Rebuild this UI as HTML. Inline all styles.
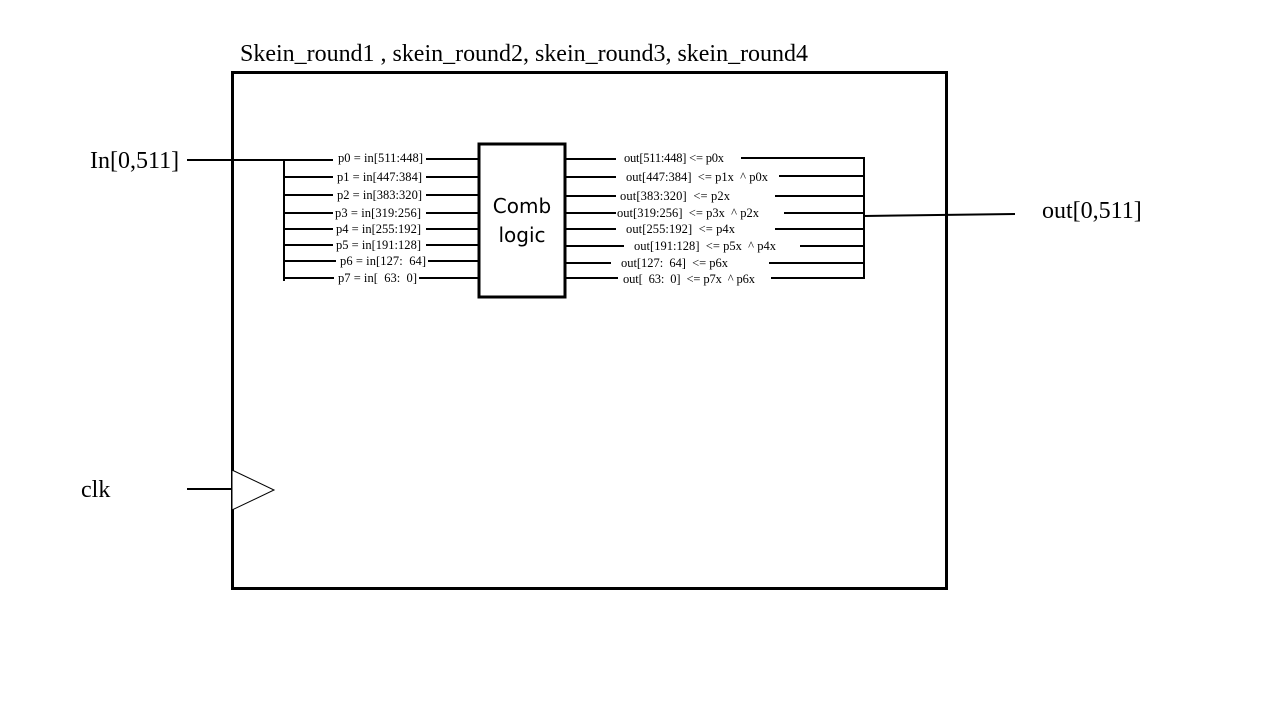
<!DOCTYPE html>
<html><head><style>body{margin:0;background:#fff}svg{display:block}</style></head><body>
<svg width="1280" height="720" xmlns="http://www.w3.org/2000/svg" font-family="Liberation Serif, serif">
<rect x="232.5" y="72.5" width="714" height="516" fill="none" stroke="#000" stroke-width="3"/>
<text x="240" y="61" font-size="24" textLength="568">Skein_round1 , skein_round2, skein_round3, skein_round4</text>
<text x="90" y="168" font-size="24">In[0,511]</text>
<text x="1042" y="218" font-size="24">out[0,511]</text>
<text x="81" y="497" font-size="24">clk</text>
<line x1="187" y1="489" x2="232" y2="489" stroke="#000" stroke-width="2"/>
<polygon points="232,470 274,490 232,510" fill="#fff" stroke="#000" stroke-width="1"/>
<g stroke="#000" stroke-width="2">
<line x1="187" y1="160" x2="333" y2="160"/>
<line x1="284" y1="159" x2="284" y2="281"/>
<line x1="284" y1="177" x2="333" y2="177"/><line x1="284" y1="195" x2="333" y2="195"/>
<line x1="284" y1="213" x2="333" y2="213"/><line x1="284" y1="229" x2="333" y2="229"/>
<line x1="284" y1="245" x2="333" y2="245"/><line x1="284" y1="261" x2="336" y2="261"/>
<line x1="284" y1="278" x2="334" y2="278"/>
<line x1="426" y1="159" x2="478" y2="159"/><line x1="426" y1="177" x2="478" y2="177"/>
<line x1="426" y1="195" x2="478" y2="195"/><line x1="426" y1="213" x2="478" y2="213"/>
<line x1="426" y1="229" x2="478" y2="229"/><line x1="426" y1="245" x2="478" y2="245"/>
<line x1="428" y1="261" x2="478" y2="261"/><line x1="419" y1="278" x2="478" y2="278"/>
<line x1="566" y1="159" x2="616" y2="159"/><line x1="566" y1="177" x2="616" y2="177"/>
<line x1="566" y1="196" x2="616" y2="196"/><line x1="566" y1="213" x2="616" y2="213"/>
<line x1="566" y1="229" x2="616" y2="229"/><line x1="566" y1="246" x2="624" y2="246"/>
<line x1="566" y1="263" x2="611" y2="263"/><line x1="566" y1="278" x2="618" y2="278"/>
<line x1="741" y1="158" x2="864" y2="158"/><line x1="779" y1="176" x2="864" y2="176"/>
<line x1="775" y1="196" x2="864" y2="196"/><line x1="784" y1="213" x2="864" y2="213"/>
<line x1="775" y1="229" x2="864" y2="229"/><line x1="800" y1="246" x2="864" y2="246"/>
<line x1="769" y1="263" x2="864" y2="263"/><line x1="771" y1="278" x2="864" y2="278"/>
<line x1="864" y1="157" x2="864" y2="279"/>
<line x1="864" y1="216" x2="1015" y2="214"/>
</g>
<rect x="479" y="144" width="86" height="153" fill="#fff" stroke="#000" stroke-width="3"/>
<text x="522" y="213" font-size="20" text-anchor="middle" font-family="DejaVu Sans, sans-serif">Comb</text>
<text x="522" y="242" font-size="20" text-anchor="middle" font-family="DejaVu Sans, sans-serif">logic</text>
<g font-size="12.5">
<text x="338" y="162" textLength="85">p0 = in[511:448]</text>
<text x="337" y="181" textLength="85">p1 = in[447:384]</text>
<text x="337" y="199" textLength="85">p2 = in[383:320]</text>
<text x="335" y="217" textLength="86">p3 = in[319:256]</text>
<text x="336" y="233" textLength="85">p4 = in[255:192]</text>
<text x="336" y="249" textLength="85">p5 = in[191:128]</text>
<text x="340" y="265" xml:space="preserve" textLength="86">p6 = in[127:  64]</text>
<text x="338" y="282" xml:space="preserve" textLength="79">p7 = in[  63:  0]</text>
<text x="624" y="162" textLength="100">out[511:448] &lt;= p0x</text>
<text x="626" y="181" xml:space="preserve" textLength="142">out[447:384]  &lt;= p1x  ^ p0x</text>
<text x="620" y="200" xml:space="preserve" textLength="110">out[383:320]  &lt;= p2x</text>
<text x="617" y="217" xml:space="preserve" textLength="142">out[319:256]  &lt;= p3x  ^ p2x</text>
<text x="626" y="233" xml:space="preserve" textLength="109">out[255:192]  &lt;= p4x</text>
<text x="634" y="250" xml:space="preserve" textLength="142">out[191:128]  &lt;= p5x  ^ p4x</text>
<text x="621" y="267" xml:space="preserve" textLength="107">out[127:  64]  &lt;= p6x</text>
<text x="623" y="283" xml:space="preserve" textLength="132">out[  63:  0]  &lt;= p7x  ^ p6x</text>
</g>
</svg>
</body></html>
